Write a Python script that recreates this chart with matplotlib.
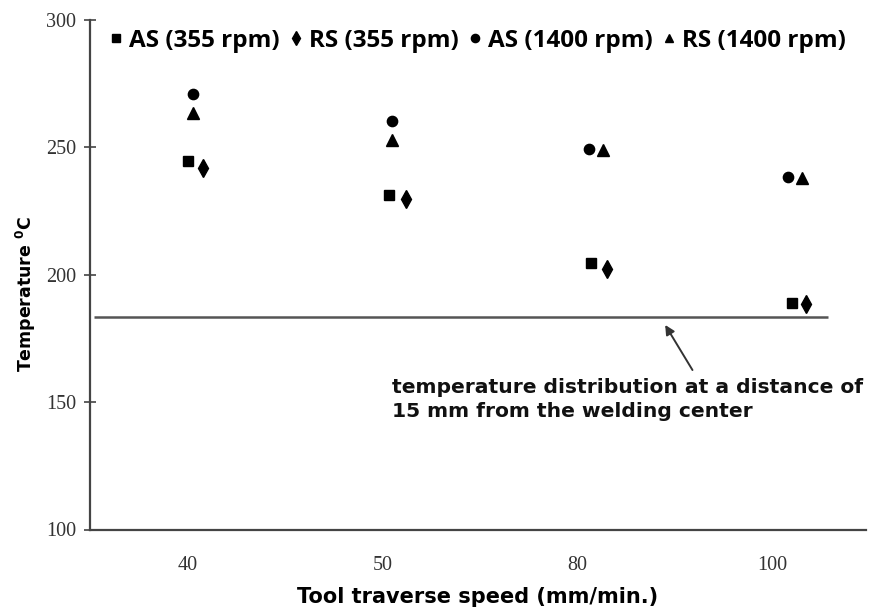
import matplotlib
matplotlib.use("Agg")
import matplotlib.pyplot as plt
import numpy as np

# ---- data ----
categories = ["40", "50", "80", "100"]
as_355 = [244.8, 231.3, 204.5, 188.8]
rs_355 = [242.0, 229.6, 202.3, 188.5]
as_1400 = [270.9, 260.4, 249.2, 238.3]
rs_1400 = [263.6, 252.9, 249.0, 238.0]
reference_level = 183.4
series_labels = ["AS (355 rpm)", "RS (355 rpm)", "AS (1400 rpm)", "RS (1400 rpm)"]
annotation_text = "temperature distribution at a distance of\n15 mm from the welding center"

# ---- layout (horizontal offsets of each series inside a category) ----
off_as355 = [0.005, 0.036, 0.07, 0.10]
off_rs355 = [0.08, 0.12, 0.15, 0.17]
off_as1400 = [0.026, 0.05, 0.06, 0.08]
off_rs1400 = [0.026, 0.05, 0.13, 0.15]

W, H = 871, 615
fig = plt.figure(figsize=(W / 100, H / 100), dpi=100)
left, right, bottom, top = 90, 866, 529.5, 20
ax = fig.add_axes([left / W, 1 - bottom / H, (right - left) / W, (bottom - top) / H])

x = np.arange(len(categories))
black = "black"
h1, = ax.plot(x + np.array(off_as355), as_355, "s", color=black, ms=7.2, ls="none")
h2, = ax.plot(x + np.array(off_rs355), rs_355, "d", color=black, ms=9, ls="none")
h3, = ax.plot(x + np.array(off_as1400), as_1400, "o", color=black, ms=7.4, ls="none")
h4, = ax.plot(x + np.array(off_rs1400), rs_1400, "^", color=black, ms=8, ls="none")

ax.set_xlim(-0.5, 3.5 - 0.02)
ax.set_ylim(100, 300)
ax.set_yticks([100, 150, 200, 250, 300])
ax.set_xticks(x)
ax.set_xticklabels(categories)

# reference line
ax.plot([-0.5 + 0.02, 3.285], [reference_level, reference_level], color="#555555", lw=1.8,
        solid_capstyle="butt")

for s in ["top", "right"]:
    ax.spines[s].set_visible(False)
for s in ["left", "bottom"]:
    ax.spines[s].set_color("#444444")
    ax.spines[s].set_linewidth(1.6)

ax.tick_params(axis="y", direction="inout", length=8, width=1.2, color="#444444",
               labelsize=14.5, labelcolor="#333333", pad=6)
ax.tick_params(axis="x", length=0, labelsize=14.5, labelcolor="#333333", pad=19)
for lab in ax.get_xticklabels() + ax.get_yticklabels():
    lab.set_family("Liberation Serif")

ax.set_xlabel("Tool traverse speed (mm/min.)", fontsize=15, fontweight="bold",
              family="DejaVu Sans", va="center")
ax.xaxis.set_label_coords((478 - left) / (right - left), -(597 - bottom) / (bottom - top))
ax.set_ylabel(r"Temperature $^{\mathbf{0}}$C", fontsize=12.5, fontweight="bold",
              family="DejaVu Sans", va="center")
ax.yaxis.set_label_coords(-(90 - 26) / (right - left), (bottom - 294) / (bottom - top))

ax.annotate("", xy=(2.45, 180.3), xytext=(2.59, 162.6), textcoords="data",
            arrowprops=dict(arrowstyle="-|>", color="#333333", lw=1.4,
                            mutation_scale=14, shrinkA=0, shrinkB=0))
fig.text(392 / W, 1 - 378 / H, annotation_text, fontsize=14.6, fontweight="bold",
         family="DejaVu Sans", va="top", ha="left", color="#111111", linespacing=1.35)

leg = fig.legend([h1, h2, h3, h4], series_labels, ncol=4, loc="center left",
                 bbox_to_anchor=(101 / W, 1 - 41 / H), frameon=False,
                 handlelength=0.45, handletextpad=0.3, columnspacing=0.45,
                 markerscale=0.8, borderaxespad=0,
                 prop={"family": "Open Sans", "weight": "bold", "size": 17.5})

fig.savefig("out.png", dpi=100, facecolor="white")
